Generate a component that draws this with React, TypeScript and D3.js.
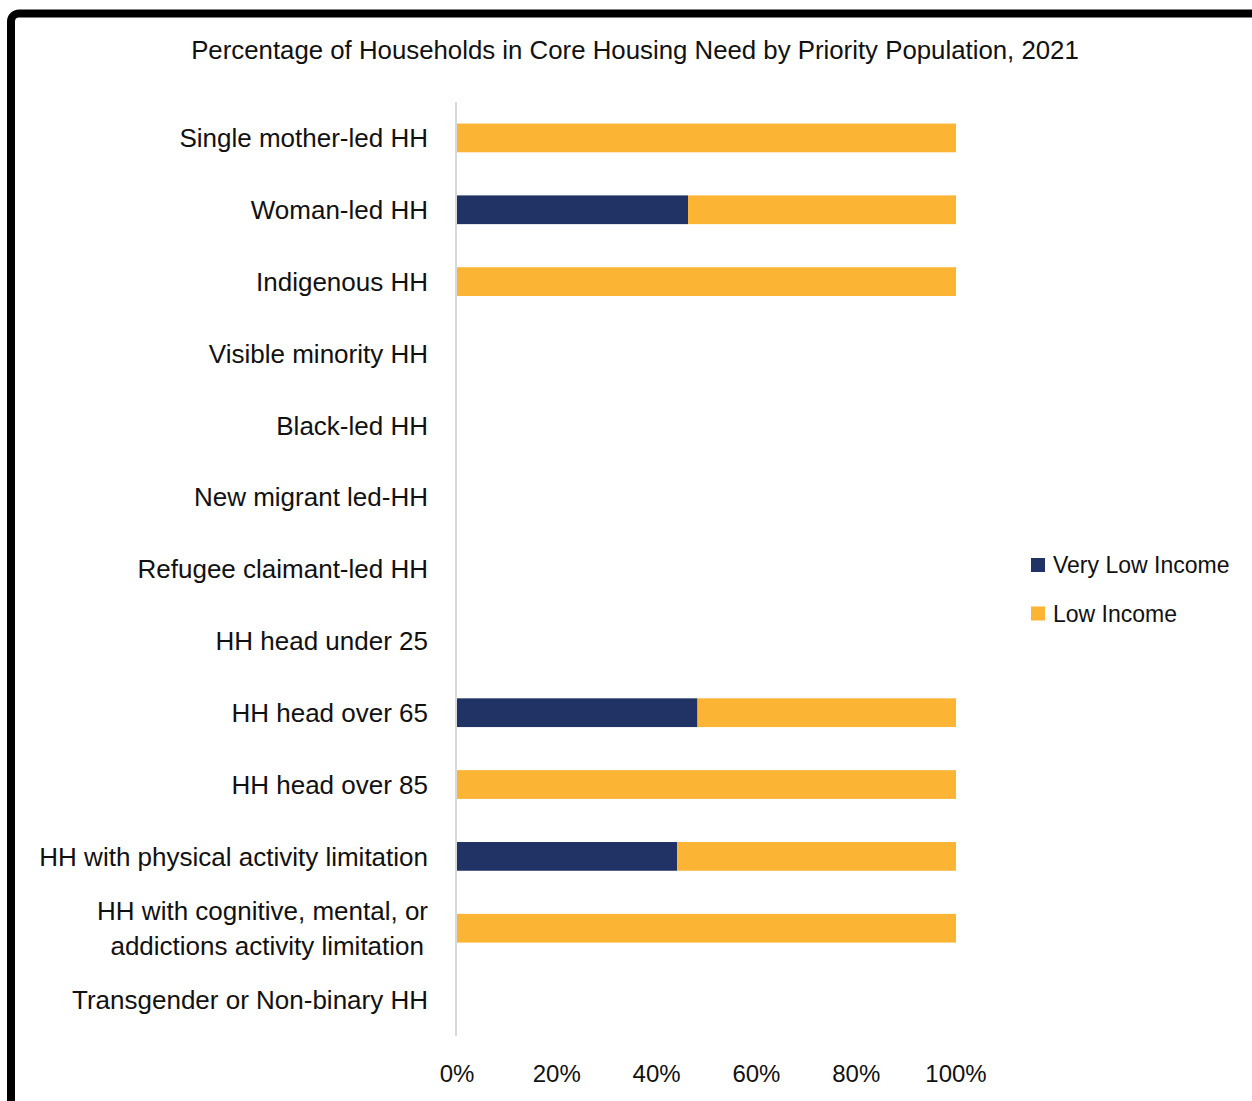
import React from 'react';
import * as d3 from 'd3';

const categories = [
  'Single mother-led HH',
  'Woman-led HH',
  'Indigenous HH',
  'Visible minority HH',
  'Black-led HH',
  'New migrant led-HH',
  'Refugee claimant-led HH',
  'HH head under 25',
  'HH head over 65',
  'HH head over 85',
  'HH with physical activity limitation',
  'HH with cognitive, mental, or\naddictions activity limitation',
  'Transgender or Non-binary HH',
];

// percent of households in core housing need, by income group
const veryLowIncome = [0, 46.3, 0, 0, 0, 0, 0, 0, 48.2, 0, 44.1, 0, 0];
const lowIncome = [100, 53.7, 100, 0, 0, 0, 0, 0, 51.8, 100, 55.9, 100, 0];

const seriesNames = ['Very Low Income', 'Low Income'];
const seriesColors = ['#213365', '#FBB434'];
const xTicks = [0, 20, 40, 60, 80, 100];

const W = 1252;
const H = 1101;
const font = '"Liberation Sans", Arial, sans-serif';

export default function App() {
  const x = d3.scaleLinear().domain([0, 100]).range([457, 956]);
  const y = d3
    .scaleBand()
    .domain(categories)
    .range([102, 1036])
    .paddingInner(0.6)
    .paddingOuter(0.3);

  const rows = categories.map((c, i) => ({
    category: c,
    'Very Low Income': veryLowIncome[i],
    'Low Income': lowIncome[i],
  }));
  const stacked = d3.stack<any>().keys(seriesNames)(rows);

  return (
    <div style={{ position: 'absolute', left: 0, top: 0 }}>
      <svg width={W} height={H} style={{ display: 'block', fontFamily: font }}>
        <rect x={0} y={0} width={W} height={H} fill="#fff" />
        {/* frame */}
        <rect x={11} y={13.5} width={W + 40} height={H + 40} rx={8} fill="none" stroke="#000" strokeWidth={8} />

        <text x={635} y={59} textAnchor="middle" fontSize={25.8} fill="#111">
          Percentage of Households in Core Housing Need by Priority Population, 2021
        </text>

        {/* bars */}
        {stacked.map((s, si) => (
          <g key={s.key} fill={seriesColors[si]}>
            {s.map((d, i) =>
              d[1] - d[0] > 0 ? (
                <rect
                  key={i}
                  x={x(d[0])}
                  y={y(categories[i])}
                  width={x(d[1]) - x(d[0])}
                  height={y.bandwidth()}
                />
              ) : null
            )}
          </g>
        ))}

        {/* axis line */}
        <line x1={456} x2={456} y1={102} y2={1036} stroke="#d9d9d9" strokeWidth={2} />

        {/* category labels */}
        {categories.map((c) => {
          const lines = c.split('\n');
          const cy = (y(c) || 0) + y.bandwidth() / 2;
          return (
            <text key={c} textAnchor="end" fontSize={26} fill="#111">
              {lines.map((l, li) => (
                <tspan key={li} x={428 - li * 4} y={cy + 9.3 + (li - (lines.length - 1) / 2) * 35}>
                  {l}
                </tspan>
              ))}
            </text>
          );
        })}

        {/* x ticks */}
        {xTicks.map((t) => (
          <text key={t} x={x(t)} y={1082} textAnchor="middle" fontSize={24} fill="#111">
            {t}%
          </text>
        ))}

        {/* legend */}
        {seriesNames.map((n, i) => (
          <g key={n} transform={`translate(1031, ${558 + i * 48.5})`}>
            <rect width={14} height={14} fill={seriesColors[i]} />
            <text x={22} y={15} fontSize={23} fill="#111">
              {n}
            </text>
          </g>
        ))}
      </svg>
    </div>
  );
}
